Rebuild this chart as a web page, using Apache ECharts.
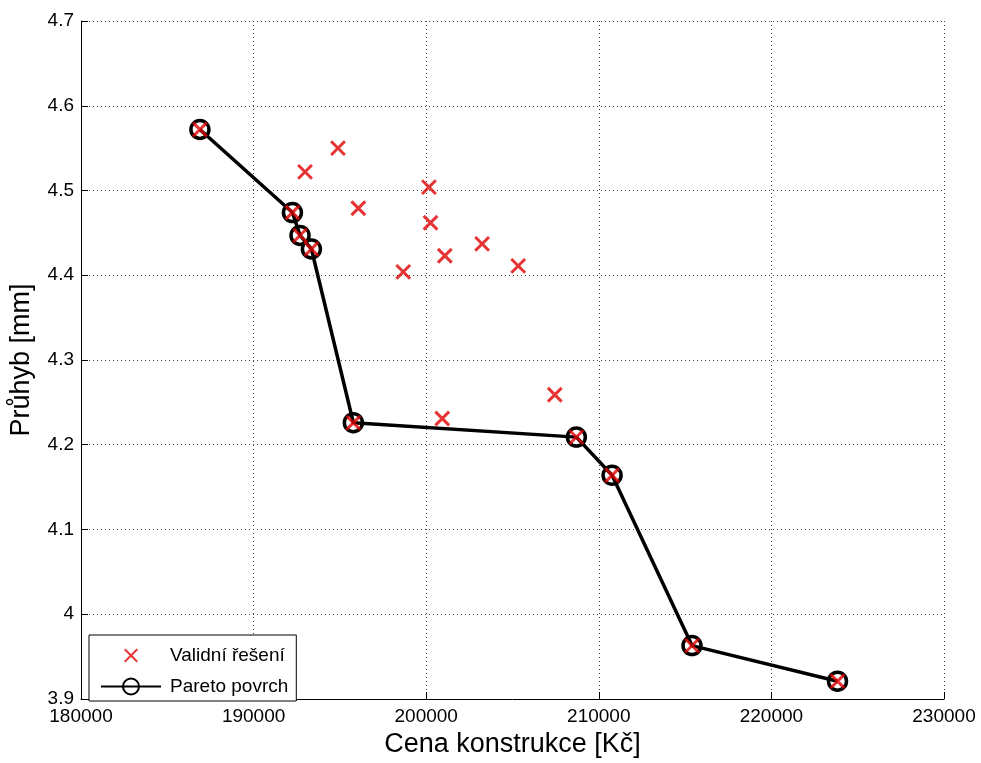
<!DOCTYPE html>
<html>
<head>
<meta charset="utf-8">
<script src="https://cdn.jsdelivr.net/npm/echarts@6/dist/echarts.min.js"></script>
<style>html,body{margin:0;padding:0;background:#fff}#c{width:981px;height:763px}</style>
</head>
<body>
<div id="c"></div>
<script>
// Valid solutions (not on the Pareto front)
const validCost = [194890, 192980, 196070, 200160, 200250, 201080, 203240, 205330, 198670, 200930, 207450];
const validDefl = [4.550, 4.522, 4.479, 4.504, 4.462, 4.423, 4.437, 4.411, 4.404, 4.231, 4.259];
// Pareto front
const paretoCost = [186890, 192250, 192690, 193350, 195780, 208700, 210770, 215400, 223830];
const paretoDefl = [4.572, 4.474, 4.447, 4.431, 4.226, 4.209, 4.164, 3.963, 3.921];
// Axes
const xTicks = [180000, 190000, 200000, 210000, 220000, 230000];
const yTicks = [3.9, 4.0, 4.1, 4.2, 4.3, 4.4, 4.5, 4.6, 4.7];
const seriesNames = ['Validní řešení', 'Pareto povrch'];

const FONT = 'Liberation Sans, Arial, sans-serif';
// cross with invisible padding (moveTo points) so legend icon is smaller than the item box
const crossPath = 'path://M-3,-3M13,13M0,0L10,10M10,0L0,10';

const scatterData = validCost.map((c, i) => [c, validDefl[i]])
  .concat(paretoCost.map((c, i) => [c, paretoDefl[i]]));
const paretoData = paretoCost.map((c, i) => [c, paretoDefl[i]]);

const chart = echarts.init(document.getElementById('c'), null, {renderer: 'canvas'});
chart.setOption({
  animation: false,
  backgroundColor: '#fff',
  grid: {left: 80, right: 37, top: 21, bottom: 60, containLabel: false},
  xAxis: {
    type: 'value',
    min: xTicks[0], max: xTicks[xTicks.length - 1], interval: xTicks[1] - xTicks[0],
    name: 'Cena konstrukce [Kč]', nameLocation: 'middle', nameGap: 32,
    nameTextStyle: {fontFamily: FONT, fontSize: 27, color: '#000'},
    axisLine: {show: true, onZero: false, lineStyle: {color: '#000', width: 1}},
    axisTick: {show: true, inside: true, length: 7, lineStyle: {color: '#000'}},
    axisLabel: {fontFamily: FONT, fontSize: 19, color: '#000', margin: 8,
      formatter: v => String(v)},
    splitLine: {show: true, lineStyle: {color: '#444', type: [1, 3], width: 1}}
  },
  yAxis: {
    type: 'value',
    min: yTicks[0], max: yTicks[yTicks.length - 1], interval: 0.1,
    name: 'Průhyb [mm]', nameLocation: 'middle', nameGap: 46,
    nameTextStyle: {fontFamily: FONT, fontSize: 27, color: '#000'},
    axisLine: {show: true, onZero: false, lineStyle: {color: '#000', width: 1}},
    axisTick: {show: true, inside: true, length: 7, lineStyle: {color: '#000'}},
    axisLabel: {fontFamily: FONT, fontSize: 19, color: '#000', margin: 7,
      formatter: v => String(Math.round(v * 10) / 10)},
    splitLine: {show: true, lineStyle: {color: '#444', type: [1, 3], width: 1}}
  },
  legend: {
    orient: 'vertical', left: 89, top: 635,
    padding: [8, 8, 5, 11],
    itemWidth: 60, itemHeight: 20, itemGap: 9,
    backgroundColor: '#fff', borderColor: '#000', borderWidth: 1, borderRadius: 0,
    textStyle: {fontFamily: FONT, fontSize: 19, color: '#000', padding: [0, 0, 0, 4]},
    data: [
      {name: seriesNames[0]},
      {name: seriesNames[1]}
    ]
  },
  series: [
    {
      name: seriesNames[1], type: 'line', data: paretoData, z: 2,
      symbol: 'circle', symbolSize: 18,
      lineStyle: {color: '#000', width: 3.5},
      itemStyle: {color: 'rgba(255,255,255,0)', borderColor: '#000', borderWidth: 3.5}
    },
    {
      name: seriesNames[0], type: 'scatter', data: scatterData, z: 3,
      symbol: crossPath, symbolSize: 22, symbolKeepAspect: true,
      itemStyle: {color: 'none', borderColor: '#e00000', borderWidth: 3}
    }
  ]
});
</script>
</body>
</html>
